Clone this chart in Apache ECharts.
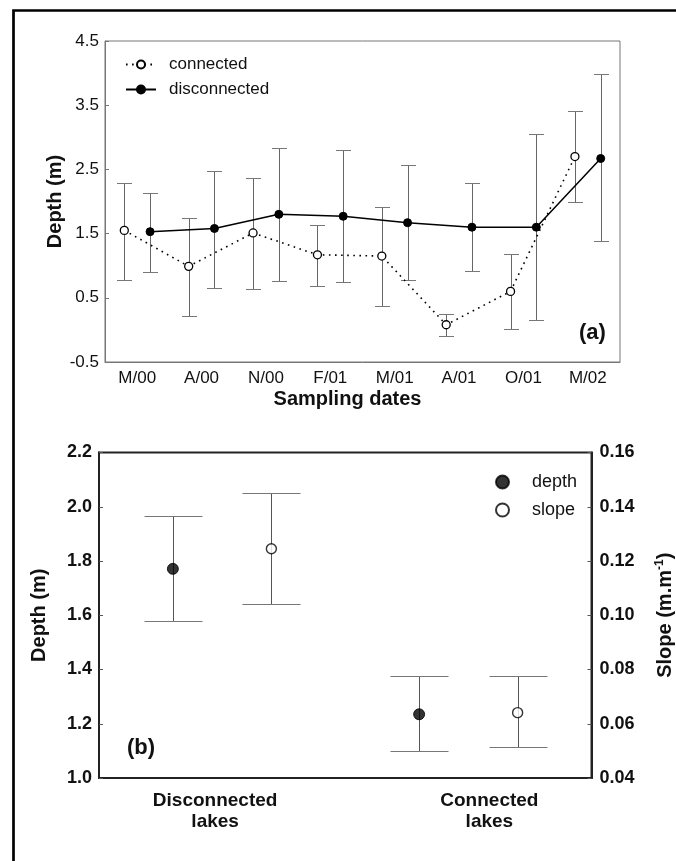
<!DOCTYPE html>
<html><head><meta charset="utf-8">
<script src="https://cdn.jsdelivr.net/npm/echarts@6/dist/echarts.min.js"></script>
<style>html,body{margin:0;padding:0;background:#fff}#c{width:676px;height:861px}</style>
</head><body><div id="c"></div>
<script>
// ---------- Panel (a) data ----------
const datesA = ['M/00','A/00','N/00','F/01','M/01','A/01','O/01','M/02'];
const connMean = [1.55, 0.99, 1.51, 1.17, 1.15, 0.08, 0.60, 2.70];
const connLow  = [0.78, 0.21, 0.63, 0.69, 0.37, -0.10, 0.01, 1.99];
const connHigh = [2.29, 1.74, 2.37, 1.64, 1.92, 0.25, 1.18, 3.41];
const discMean = [1.53, 1.58, 1.80, 1.77, 1.67, 1.60, 1.60, 2.67];
const discLow  = [0.90, 0.66, 0.76, 0.75, 0.77, 0.91, 0.15, 1.38];
const discHigh = [2.13, 2.48, 2.84, 2.80, 2.57, 2.29, 3.05, 3.98];
const yTicksA  = [-0.5, 0.5, 1.5, 2.5, 3.5, 4.5];

// ---------- Panel (b) data ----------
const lakeCats  = ['Disconnected\nlakes', 'Connected\nlakes'];
const depthMean = [1.771, 1.235];
const depthLow  = [1.578, 1.098];
const depthHigh = [1.966, 1.375];
const slopeMean = [0.1245, 0.0641];
const slopeLow  = [0.1042, 0.0514];
const slopeHigh = [0.1449, 0.0775];
const yTicksDepth = [1.0, 1.2, 1.4, 1.6, 1.8, 2.0, 2.2];
const yTicksSlope = [0.04, 0.06, 0.08, 0.10, 0.12, 0.14, 0.16];

const FONT = '"Liberation Sans", Arial, Helvetica, sans-serif';
const OFF = 0.2; // horizontal dodge of the two series inside a category (fraction of category)
const pos = (i, off) => i + 0.5 + off;
const px = v => Math.round(v) + 0.5;

function errRender(cap, stemColor, capColor) {
  return function (params, api) {
    const x = api.value(0), lo = api.value(1), hi = api.value(2);
    const pHi = api.coord([x, hi]), pLo = api.coord([x, lo]);
    const cx = px(pHi[0]), yh = px(pHi[1]), yl = px(pLo[1]);
    return { type: 'group', children: [
      { type: 'line', shape: { x1: cx, y1: yh, x2: cx, y2: yl }, style: { stroke: stemColor, lineWidth: 1 } },
      { type: 'line', shape: { x1: cx - cap, y1: yh, x2: cx + cap, y2: yh }, style: { stroke: capColor, lineWidth: 1 } },
      { type: 'line', shape: { x1: cx - cap, y1: yl, x2: cx + cap, y2: yl }, style: { stroke: capColor, lineWidth: 1 } }
    ]};
  };
}

const chart = echarts.init(document.getElementById('c'), null, { renderer: 'canvas' });

const option = {
  backgroundColor: '#fff',
  animation: false,
  textStyle: { fontFamily: FONT },
  grid: [
    { left: 105, top: 41, width: 515, height: 321, outerBoundsMode: 'none', containLabel: false,
      show: true, borderColor: '#777', borderWidth: 1, backgroundColor: 'transparent' },
    { left: 99, top: 452.5, width: 492.5, height: 325.5, outerBoundsMode: 'none', containLabel: false,
      show: true, borderColor: '#222', borderWidth: 2, backgroundColor: 'transparent' }
  ],
  legend: [
    {
      data: ['connected', 'disconnected'], orient: 'vertical', left: 125, top: 56, padding: 0,
      itemWidth: 30, itemHeight: 10, itemGap: 8,
      textStyle: { fontSize: 17, color: '#111', fontFamily: FONT, padding: [0, 0, 0, 8] }
    },
    {
      data: ['depth', 'slope'], orient: 'vertical', left: 495, top: 473, padding: 0,
      itemWidth: 13, itemHeight: 13, itemGap: 10,
      textStyle: { fontSize: 18, color: '#111', fontFamily: FONT, padding: [0, 0, 0, 18] }
    }
  ],
  xAxis: [
    {
      type: 'category', gridIndex: 0, data: datesA, boundaryGap: true,
      axisLine: { onZero: false, lineStyle: { color: '#777', width: 1 } },
      axisTick: { inside: true, length: 4, lineStyle: { color: '#777' } },
      axisLabel: { color: '#111', fontSize: 17, margin: 8, fontFamily: FONT },
      name: 'Sampling dates', nameLocation: 'middle', nameGap: 27, nameMoveOverlap: false,
      nameTextStyle: { fontSize: 20, fontWeight: 'bold', color: '#111', fontFamily: FONT, padding: [0, 30, 0, 0] }
    },
    { type: 'value', gridIndex: 0, min: 0, max: datesA.length, show: false },
    {
      type: 'category', gridIndex: 1, data: [
        { value: lakeCats[0], textStyle: { padding: [0, 14, 0, 0] } },
        { value: lakeCats[1], textStyle: { padding: [0, 0, 0, 42] } }
      ], boundaryGap: true,
      axisLine: { onZero: false, lineStyle: { color: '#222', width: 2 } },
      axisTick: { inside: true, length: 4, lineStyle: { color: '#555' } },
      axisLabel: { color: '#111', fontSize: 19, fontWeight: 'bold', lineHeight: 21, margin: 12, fontFamily: FONT }
    },
    { type: 'value', gridIndex: 1, min: 0, max: lakeCats.length, show: false }
  ],
  yAxis: [
    {
      type: 'value', gridIndex: 0, min: yTicksA[0], max: yTicksA[yTicksA.length - 1],
      splitLine: { show: false },
      axisLine: { show: true, onZero: false, lineStyle: { color: '#777' } },
      axisTick: { show: true, inside: true, length: 4, customValues: yTicksA, lineStyle: { color: '#777' } },
      axisLabel: { customValues: yTicksA, formatter: v => v.toFixed(1), color: '#111', fontSize: 17, margin: 6, fontFamily: FONT },
      name: 'Depth (m)', nameLocation: 'middle', nameGap: 40, nameMoveOverlap: false,
      nameTextStyle: { fontSize: 20, fontWeight: 'bold', color: '#111', fontFamily: FONT }
    },
    {
      type: 'value', gridIndex: 1, min: yTicksDepth[0], max: yTicksDepth[yTicksDepth.length - 1],
      splitLine: { show: false },
      axisLine: { show: true, onZero: false, lineStyle: { color: '#222', width: 2 } },
      axisTick: { show: true, inside: true, length: 4, customValues: yTicksDepth, lineStyle: { color: '#555' } },
      axisLabel: { customValues: yTicksDepth, formatter: v => v.toFixed(1), color: '#111', fontSize: 18, fontWeight: 'bold', margin: 7, fontFamily: FONT },
      name: 'Depth (m)', nameLocation: 'middle', nameGap: 50, nameMoveOverlap: false,
      nameTextStyle: { fontSize: 20, fontWeight: 'bold', color: '#111', fontFamily: FONT }
    },
    {
      type: 'value', gridIndex: 1, position: 'right', min: yTicksSlope[0], max: yTicksSlope[yTicksSlope.length - 1],
      splitLine: { show: false },
      axisLine: { show: true, onZero: false, lineStyle: { color: '#222', width: 2 } },
      axisTick: { show: true, inside: true, length: 4, customValues: yTicksSlope, lineStyle: { color: '#555' } },
      axisLabel: { customValues: yTicksSlope, formatter: v => v.toFixed(2), color: '#111', fontSize: 18, fontWeight: 'bold', margin: 8, fontFamily: FONT },
      name: '{b|Slope (m.m}{s|-1}{b|)}', nameLocation: 'middle', nameGap: 62, nameMoveOverlap: false,
      nameTextStyle: {
        color: '#111', fontFamily: FONT,
        rich: {
          b: { fontSize: 20, fontWeight: 'bold', color: '#111', fontFamily: FONT, lineHeight: 24 },
          s: { fontSize: 12, fontWeight: 'bold', color: '#111', fontFamily: FONT, verticalAlign: 'top', lineHeight: 24 }
        }
      }
    }
  ],
  series: [
    // Panel (a) error bars
    { type: 'custom', name: 'connErr', xAxisIndex: 1, yAxisIndex: 0, z: 2,
      renderItem: errRender(7.5, '#666', '#777'), encode: { x: 0, y: [1, 2] },
      data: connLow.map((lo, i) => [pos(i, -OFF), lo, connHigh[i]]) },
    { type: 'custom', name: 'discErr', xAxisIndex: 1, yAxisIndex: 0, z: 2,
      renderItem: errRender(7.5, '#666', '#777'), encode: { x: 0, y: [1, 2] },
      data: discLow.map((lo, i) => [pos(i, OFF), lo, discHigh[i]]) },
    // Panel (a) lines
    { type: 'line', name: 'connected', xAxisIndex: 1, yAxisIndex: 0, z: 4,
      symbol: 'circle', symbolSize: 8, showAllSymbol: true,
      itemStyle: { color: '#fff', borderColor: '#000', borderWidth: 1.3 },
      lineStyle: { color: '#000', width: 1.6, type: [1.6, 4.5] },
      data: connMean.map((v, i) => [pos(i, -OFF), v]) },
    { type: 'line', name: 'disconnected', xAxisIndex: 1, yAxisIndex: 0, z: 4,
      symbol: 'circle', symbolSize: 8, showAllSymbol: true,
      itemStyle: { color: '#000', borderColor: '#000', borderWidth: 1 },
      lineStyle: { color: '#000', width: 1.5 },
      data: discMean.map((v, i) => [pos(i, OFF), v]) },
    // Panel (b) error bars
    { type: 'custom', name: 'depthErr', xAxisIndex: 3, yAxisIndex: 1, z: 2,
      renderItem: errRender(29, '#555', '#777'), encode: { x: 0, y: [1, 2] },
      data: depthLow.map((lo, i) => [pos(i, -OFF), lo, depthHigh[i]]) },
    { type: 'custom', name: 'slopeErr', xAxisIndex: 3, yAxisIndex: 2, z: 2,
      renderItem: errRender(29, '#555', '#777'), encode: { x: 0, y: [1, 2] },
      data: slopeLow.map((lo, i) => [pos(i, OFF), lo, slopeHigh[i]]) },
    // Panel (b) points
    { type: 'scatter', name: 'depth', xAxisIndex: 3, yAxisIndex: 1, z: 4,
      symbol: 'circle', symbolSize: 11,
      itemStyle: { color: '#000', borderColor: '#000', borderWidth: 1 },
      data: depthMean.map((v, i) => [pos(i, -OFF), v]) },
    { type: 'scatter', name: 'slope', xAxisIndex: 3, yAxisIndex: 2, z: 4,
      symbol: 'circle', symbolSize: 10,
      itemStyle: { color: '#fff', borderColor: '#000', borderWidth: 1.4 },
      data: slopeMean.map((v, i) => [pos(i, OFF), v]) }
  ],
  graphic: [
    { type: 'rect', silent: true, z: 100,
      shape: { x: 13.5, y: 10.5, width: 900, height: 1000 },
      style: { fill: 'none', stroke: '#000', lineWidth: 2.7 } },
    { type: 'text', x: 579, y: 333, z: 100,
      style: { text: '(a)', font: 'bold 22px ' + FONT, fill: '#111', align: 'left', verticalAlign: 'middle' } },
    { type: 'text', x: 127, y: 748, z: 100,
      style: { text: '(b)', font: 'bold 22px ' + FONT, fill: '#111', align: 'left', verticalAlign: 'middle' } }
  ]
};
chart.setOption(option);
</script>
</body></html>
